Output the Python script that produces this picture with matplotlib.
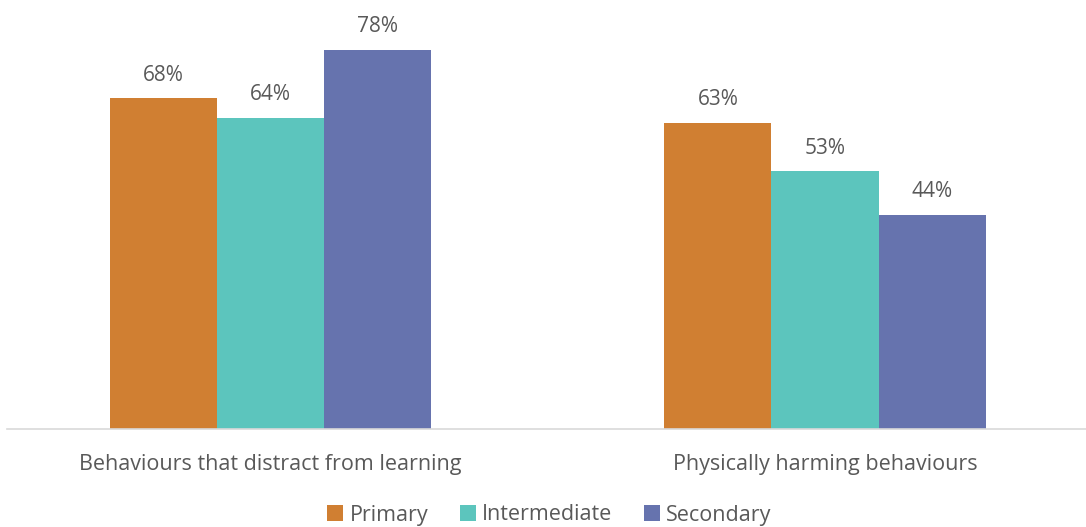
import matplotlib
matplotlib.use("Agg")
import matplotlib.pyplot as plt
import numpy as np

categories = ["Behaviours that distract from learning", "Physically harming behaviours"]
series_names = ["Primary", "Intermediate", "Secondary"]
primary = [68, 63]
intermediate = [64, 53]
secondary = [78, 44]
colors = ["#D07F32", "#5CC5BD", "#6673AE"]

plt.rcParams["font.family"] = ["Open Sans", "DejaVu Sans"]
text_color = "#595959"

fig = plt.figure(figsize=(10.86, 5.27), dpi=100)
ax = fig.add_axes([7 / 1086, 98 / 527, 1 - 7 / 1086, 419 / 527])

x = np.arange(len(categories))
width = 0.193
values = [primary, intermediate, secondary]
for i, (name, vals, c) in enumerate(zip(series_names, values, colors)):
    pos = x + (i - 1) * width
    ax.bar(pos, vals, width=width, color=c, label=name)
    for xb, v in zip(pos, vals):
        ax.text(xb, v + 2.6, f"{v}%", ha="center", va="bottom",
                fontsize=15, color=text_color)

ax.set_xlim(-0.4752, 1.4707)
ax.set_ylim(0, 86.2)
ax.set_yticks([])
ax.set_xticks(x)
ax.set_xticklabels(categories, fontsize=15.5, color=text_color)
ax.tick_params(axis="x", length=0, pad=18)
for s in ["top", "right", "left"]:
    ax.spines[s].set_visible(False)
ax.spines["bottom"].set_color("#D9D9D9")
ax.spines["bottom"].set_linewidth(1.2)

leg = fig.legend(loc="center", bbox_to_anchor=(0.506, 12 / 527), ncol=3,
                 frameon=False, fontsize=15.5, handlelength=0.75, handleheight=0.75,
                 handletextpad=0.3, columnspacing=1.45, borderpad=0.1)
for t in leg.get_texts():
    t.set_color(text_color)

fig.savefig("out.png", dpi=100)
